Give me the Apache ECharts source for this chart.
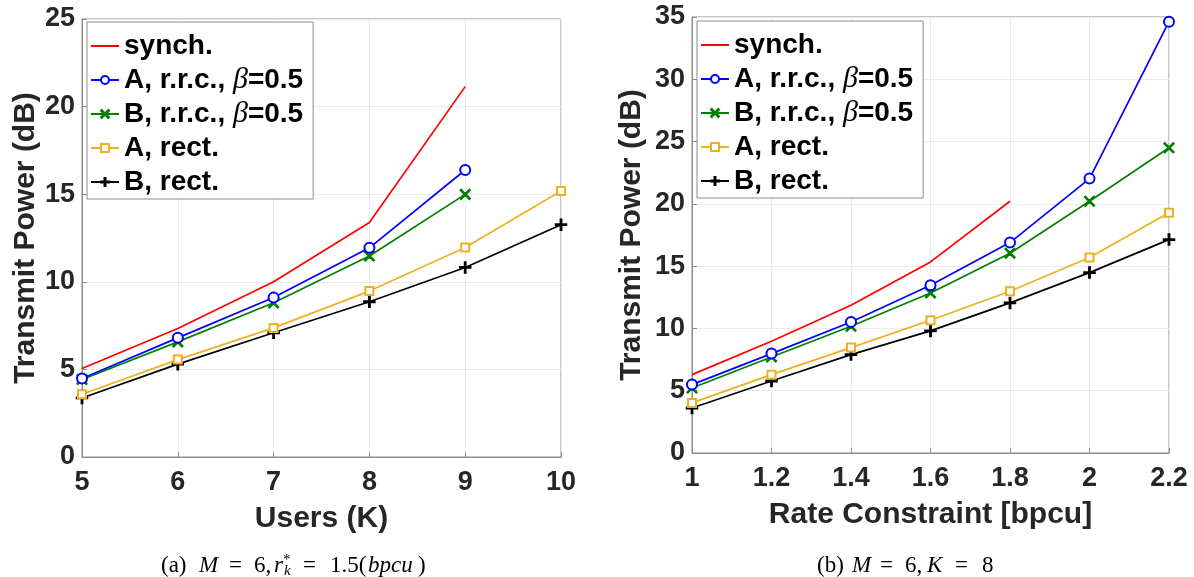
<!DOCTYPE html>
<html>
<head>
<meta charset="utf-8">
<script src="https://cdn.jsdelivr.net/npm/echarts@6/dist/echarts.min.js"></script>
<style>
  html, body { margin: 0; padding: 0; background: #fff; }
  #main { width: 1194px; height: 577px; }
</style>
</head>
<body>
<div id="main"></div>
<script>
// (a) M=6, r*=1.5 bpcu : power vs number of users
var usersK = [5, 6, 7, 8, 9, 10]
var aSynch   = [5.05, 7.33, 10.0, 13.39, 21.14]
var aArrc    = [4.48, 6.80, 9.10, 11.94, 16.38]
var aBrrc    = [4.42, 6.57, 8.80, 11.47, 14.99]
var aArect   = [3.58, 5.56, 7.37, 9.47, 11.96, 15.18]
var aBrect   = [3.37, 5.30, 7.09, 8.86, 10.82, 13.26]

// (b) M=6, K=8 : power vs rate constraint
var rates    = [1, 1.2, 1.4, 1.6, 1.8, 2, 2.2]
var bSynch   = [6.29, 8.97, 11.86, 15.34, 20.21]
var bArrc    = [5.49, 7.98, 10.52, 13.47, 16.89, 22.03, 34.62]
var bBrrc    = [5.22, 7.71, 10.17, 12.85, 16.04, 20.21, 24.50]
var bArect   = [4.02, 6.29, 8.46, 10.66, 12.99, 15.69, 19.28]
var bBrect   = [3.61, 5.78, 7.90, 9.80, 12.05, 14.48, 17.13]

var names = ['synch.', 'A, r.r.c., β=0.5', 'B, r.r.c., β=0.5', 'A, rect.', 'B, rect.']
var colors = ['#ff0000', '#0000ff', '#008000', '#edb120', '#000000']
var plusPath = 'path://M4.4,0H5.6V4.4H10V5.6H5.6V10H4.4V5.6H0V4.4H4.4Z'
var crossPath = 'path://M1,0.2L5,4.2L9,0.2L9.8,1L5.8,5L9.8,9L9,9.8L5,5.8L1,9.8L0.2,9L4.2,5L0.2,1Z'
var symbols = ['none', 'emptyCircle', crossPath, 'emptyRect', plusPath]
var symSizes = [0, 10, 10, 8, 11]

function pairs(xs, ys) {
  return ys.map(function (y, i) { return [xs[i], y] })
}

function makeSeries(xs, sets, idx) {
  return sets.map(function (ys, k) {
    return {
      name: names[k],
      type: 'line',
      xAxisIndex: idx,
      yAxisIndex: idx,
      data: pairs(xs, ys),
      symbol: symbols[k],
      symbolSize: symSizes[k],
      showSymbol: k !== 0,
      lineStyle: { color: colors[k], width: 1.7 },
      itemStyle: { color: colors[k], borderColor: colors[k], borderWidth: 1.5 },
      emphasis: { disabled: true },
      z: 10 - k
    }
  })
}

var tickFont = { fontFamily: 'Liberation Sans', fontWeight: 'bold', fontSize: 27, color: '#262626' }
var nameFont = { fontFamily: 'Liberation Sans', fontWeight: 'bold', fontSize: 30, color: '#262626' }

function xAxisOf(idx, min, max, interval, title, fmt) {
  return {
    type: 'value', gridIndex: idx, min: min, max: max, interval: interval,
    name: title, nameLocation: 'middle', nameGap: 47, nameTextStyle: nameFont,
    axisLine: { lineStyle: { color: '#8c8c8c', width: 1 } },
    axisTick: { inside: true, length: 5, lineStyle: { color: '#8c8c8c' } },
    axisLabel: Object.assign({ margin: 12, formatter: fmt }, tickFont),
    splitLine: { show: true, lineStyle: { color: '#ebebeb', width: 1 } }
  }
}
function yAxisOf(idx, max, gap) {
  return {
    type: 'value', gridIndex: idx, min: 0, max: max, interval: 5,
    name: 'Transmit Power (dB)', nameLocation: 'middle', nameGap: gap, nameTextStyle: nameFont,
    axisLine: { show: true, lineStyle: { color: '#8c8c8c', width: 1 } },
    axisTick: { show: true, inside: true, length: 5, lineStyle: { color: '#8c8c8c' } },
    axisLabel: Object.assign({ margin: 7 }, tickFont),
    splitLine: { show: true, lineStyle: { color: '#ebebeb', width: 1 } }
  }
}

function legendOf(left, top) {
  return {
    left: left, top: top, orient: 'vertical',
    // synch. has no marker, so hide the legend dot
    data: names.map(function (n, k) {
      return k === 0 ? { name: n, itemStyle: { color: 'rgba(0,0,0,0)', borderWidth: 0 } } : n
    }),
    backgroundColor: '#fff', borderColor: '#8c8c8c', borderWidth: 1,
    padding: [9, 10, 2, 3], itemGap: 4, itemWidth: 28, itemHeight: 10,
    selectedMode: false,
    formatter: function (n) { return n.replace('β', '{g|β}') },
    textStyle: {
      fontFamily: 'Liberation Sans', fontWeight: 'bold', fontSize: 28, color: '#000', lineHeight: 30,
      rich: { g: { fontFamily: 'Liberation Serif', fontStyle: 'italic', fontWeight: 'normal', fontSize: 30, lineHeight: 30, color: '#000' } }
    }
  }
}

// caption pieces: [text, style, advance width]
var capA = [['(a)', 'n', 38], ['M', 'i', 30], ['=', 'n', 25], ['6,', 'n', 20], ['r', 'i', 9],
            ['*', 'sup', 1], ['k', 'sub', 19], ['=', 'n', 27], ['1.5(', 'n', 38], ['bpcu', 'i', 50], [')', 'n', 8]]
var capB = [['(b)', 'n', 35], ['M', 'i', 28], ['=', 'n', 25], ['6,', 'n', 22], ['K', 'i', 28],
            ['=', 'n', 27], ['8', 'n', 12]]

var capRich = {
  n: { fontFamily: 'Liberation Serif', fontSize: 23, lineHeight: 26, fill: '#000' },
  i: { fontFamily: 'Liberation Serif', fontStyle: 'italic', fontSize: 23, lineHeight: 26, fill: '#000' },
  sup: { fontFamily: 'Liberation Serif', fontSize: 15, lineHeight: 13, verticalAlign: 'top', fill: '#000' },
  sub: { fontFamily: 'Liberation Serif', fontStyle: 'italic', fontSize: 15, lineHeight: 13, verticalAlign: 'bottom', fill: '#000' }
}
function capText(parts) {
  var rich = {}
  var text = parts.map(function (p, j) {
    var key = 't' + j
    rich[key] = Object.assign({}, capRich[p[1]], { width: p[2], align: 'left' })
    return '{' + key + '|' + p[0] + '}'
  }).join('')
  return { text: text, rich: rich }
}

var chart = echarts.init(document.getElementById('main'))
var fmt1 = function (v) { return String(+v.toFixed(1)) }
var ca = capText(capA), cb = capText(capB)

chart.setOption({
  backgroundColor: '#fff',
  animation: false,
  grid: [
    { left: 82, top: 19, right: 633, bottom: 120, show: true, borderColor: '#8c8c8c', borderWidth: 1, backgroundColor: 'transparent' },
    { left: 692, top: 17, right: 25, bottom: 124, show: true, borderColor: '#8c8c8c', borderWidth: 1, backgroundColor: 'transparent' }
  ],
  xAxis: [
    xAxisOf(0, 5, 10, 1, 'Users (K)', fmt1),
    xAxisOf(1, 1, 2.2, 0.2, 'Rate Constraint [bpcu]', fmt1)
  ],
  yAxis: [yAxisOf(0, 25, 41), yAxisOf(1, 35, 45)],
  legend: [legendOf(87, 22), legendOf(697, 21)],
  series: makeSeries(usersK, [aSynch, aArrc, aBrrc, aArect, aBrect], 0)
    .concat(makeSeries(rates, [bSynch, bArrc, bBrrc, bArect, bBrect], 1)),
  graphic: [
    { type: 'text', left: 161, top: 553, style: { text: ca.text, rich: ca.rich, fontFamily: 'Liberation Serif', fontSize: 23, lineHeight: 26, fill: '#000', align: 'left' } },
    { type: 'text', left: 817, top: 553, style: { text: cb.text, rich: cb.rich, fontFamily: 'Liberation Serif', fontSize: 23, lineHeight: 26, fill: '#000', align: 'left' } }
  ]
})
</script>
</body>
</html>
